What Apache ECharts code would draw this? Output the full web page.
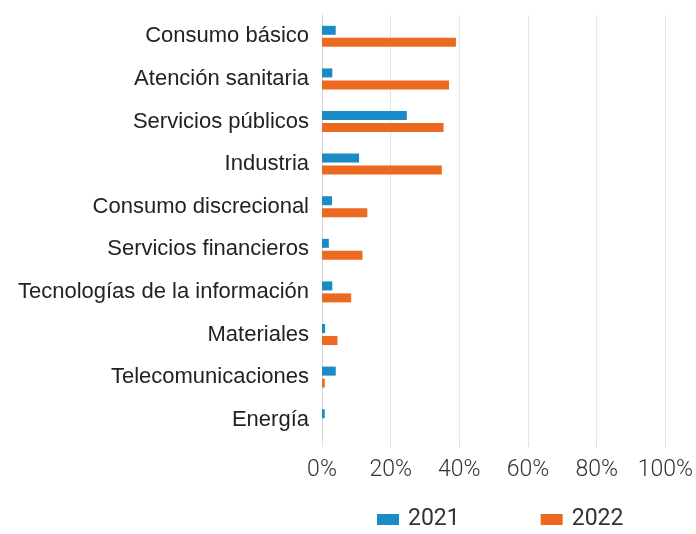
<!DOCTYPE html>
<html>
<head>
<meta charset="utf-8">
<script src="https://cdn.jsdelivr.net/npm/echarts@6/dist/echarts.min.js"></script>
<style>
  html, body { margin: 0; padding: 0; background: #fff; }
  #chart { width: 696px; height: 534px; }
</style>
</head>
<body>
<div id="chart"></div>
<script>
// Sectors, top to bottom
const categories = [
  'Consumo básico',
  'Atención sanitaria',
  'Servicios públicos',
  'Industria',
  'Consumo discrecional',
  'Servicios financieros',
  'Tecnologías de la información',
  'Materiales',
  'Telecomunicaciones',
  'Energía'
];
// Share per sector (%)
const values2021 = [4, 3, 24.7, 10.8, 2.9, 2, 3, 0.9, 4, 0.8];
const values2022 = [39, 37, 35.4, 34.9, 13.2, 11.8, 8.5, 4.5, 0.8, 0];
const seriesNames = ['2021', '2022'];
const xTicks = [0, 20, 40, 60, 80, 100];

const chart = echarts.init(document.getElementById('chart'), null, { renderer: 'canvas' });

chart.setOption({
  animation: false,
  backgroundColor: '#ffffff',
  grid: { left: 322, right: 26, top: 15, bottom: 93 },
  legend: {
    data: seriesNames,
    left: 377,
    top: 508,
    padding: 0,
    itemWidth: 22,
    itemHeight: 11,
    itemGap: 81,
    icon: 'rect',
    textStyle: { fontFamily: 'Roboto', fontSize: 23, color: '#333', padding: [0, 0, 0, 4] }
  },
  xAxis: {
    type: 'value',
    min: xTicks[0],
    max: xTicks[xTicks.length - 1],
    interval: 20,
    axisLine: { show: false },
    axisTick: { show: true, length: 6, lineStyle: { color: '#e0e0e0' } },
    splitLine: { show: true, lineStyle: { color: '#e6e6e6', width: 1 } },
    axisLabel: {
      formatter: v => v + '%',
      fontFamily: 'Roboto',
      fontWeight: 300,
      fontSize: 23,
      color: '#333',
      margin: 18
    }
  },
  yAxis: {
    type: 'category',
    data: categories,
    inverse: true,
    axisLine: { show: true, lineStyle: { color: '#d6d6d6' } },
    axisTick: { show: false },
    axisLabel: {
      fontFamily: 'Liberation Sans, Arial, sans-serif',
      fontSize: 22,
      color: '#222',
      margin: 13
    }
  },
  series: [
    {
      name: seriesNames[0],
      type: 'bar',
      data: values2021,
      barWidth: 9,
      barGap: '33%',
      itemStyle: { color: '#1b8bc8' }
    },
    {
      name: seriesNames[1],
      type: 'bar',
      data: values2022,
      barWidth: 9,
      barGap: '33%',
      itemStyle: { color: '#ec6a1f' }
    }
  ]
});
</script>
</body>
</html>
